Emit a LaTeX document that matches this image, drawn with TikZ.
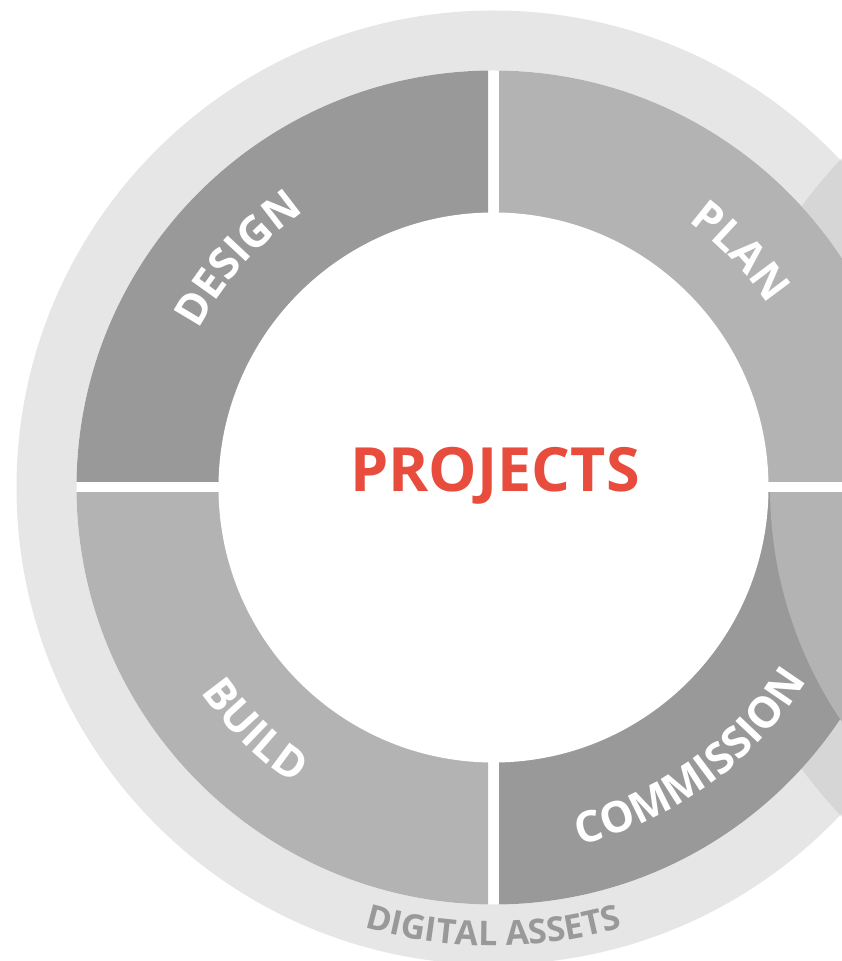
\documentclass[tikz,border=0pt]{standalone}
\usepackage{fontspec}
\setmainfont{Open Sans}
\usetikzlibrary{decorations.text}
\definecolor{ringgrey}{HTML}{E6E6E6}
\definecolor{overlapgrey}{HTML}{D6D6D6}
\definecolor{segdark}{HTML}{999999}
\definecolor{seglight}{HTML}{B3B3B3}
\definecolor{projred}{HTML}{E84C3D}
\definecolor{assetgrey}{HTML}{999999}
\newcommand\segfont{\fontsize{43}{43}\selectfont\bfseries}
\newcommand\assetfont{\fontsize{34}{34}\selectfont\bfseries}
\begin{document}
\begin{tikzpicture}[x=1pt,y=1pt,
  segtext/.style={decorate,decoration={text along path,text align=center,text color=white,text={#1}}},
  assettext/.style={decorate,decoration={text along path,text align=center,text color=assetgrey,text={#1}}}]
\useasboundingbox (0,0) rectangle (842,961);
\clip (0,0) rectangle (842,961);
\coordinate (c) at (493.5,473.5);
\coordinate (n) at (1187,473.5);
% outer light circles and their overlap
\fill[ringgrey] (c) circle[radius=477];
\fill[ringgrey] (n) circle[radius=477];
\begin{scope}
  \clip (c) circle[radius=477];
  \fill[overlapgrey] (n) circle[radius=477];
\end{scope}
\fill[white] (c) circle[radius=417];
% main ring segments
\begin{scope}\clip (0,479) rectangle (488,961); \fill[segdark] (c) circle[radius=417];\end{scope}
\begin{scope}\clip (499,479) rectangle (842,961); \fill[seglight] (c) circle[radius=417];\end{scope}
\begin{scope}\clip (0,0) rectangle (488,468); \fill[seglight] (c) circle[radius=417];\end{scope}
\begin{scope}\clip (499,0) rectangle (842,468); \fill[segdark] (c) circle[radius=417];\end{scope}
% neighbouring ring segment
\begin{scope}\clip (0,0) rectangle (1181.5,468); \fill[seglight] (n) circle[radius=417];\end{scope}
\fill[white] (c) circle[radius=275];
% labels
\node[anchor=base,text=projred,font=\fontsize{61}{61}\selectfont\bfseries,inner sep=0pt] (projects) at (495,469) {PROJECTS};
\path[segtext={|\segfont|DESIGN}] (c) ++(183.2:334.5) arc[start angle=183.2,end angle=93.2,radius=334.5];
\path[segtext={|\segfont|PLAN}] (c) ++(88.7:329.5) arc[start angle=88.7,end angle=-1.3,radius=329.5];
\path[segtext={|\segfont|BUILD}] (c) ++(180.5:357.5) arc[start angle=180.5,end angle=270.5,radius=357.5];
\path[segtext={|\segfont|COMMISSION}] (c) ++(261:367.5) arc[start angle=261,end angle=351,radius=367.5];
\path[assettext={|\assetfont|DIGITAL ASSETS}] (c) ++(235:458.5) arc[start angle=235,end angle=305,radius=458.5];
\end{tikzpicture}
\end{document}
